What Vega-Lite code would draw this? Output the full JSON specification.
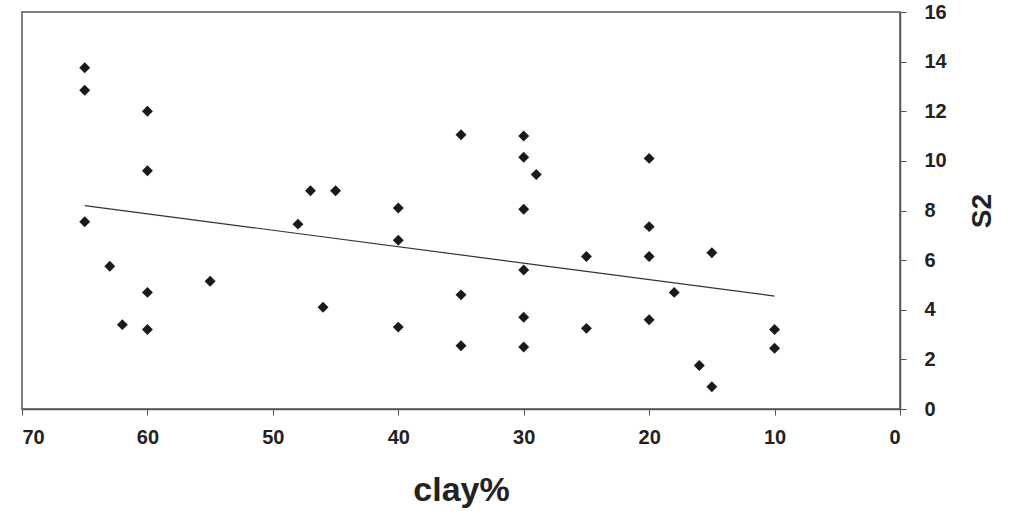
{
  "$schema": "https://vega.github.io/schema/vega-lite/v6.json",
  "autosize": "none",
  "width": 878,
  "height": 397,
  "padding": {"left": 22, "top": 12, "right": 110, "bottom": 102},
  "background": "#ffffff",
  "config": {
    "view": {"stroke": "#555555", "strokeWidth": 1.5},
    "font": "Liberation Sans"
  },
  "datasets": {
    "pts": [
      {"clay": 65, "S2": 13.75}, {"clay": 65, "S2": 12.85}, {"clay": 65, "S2": 7.55},
      {"clay": 63, "S2": 5.75}, {"clay": 62, "S2": 3.4},
      {"clay": 60, "S2": 12.0}, {"clay": 60, "S2": 9.6}, {"clay": 60, "S2": 4.7}, {"clay": 60, "S2": 3.2},
      {"clay": 55, "S2": 5.15}, {"clay": 48, "S2": 7.45}, {"clay": 47, "S2": 8.8},
      {"clay": 46, "S2": 4.1}, {"clay": 45, "S2": 8.8},
      {"clay": 40, "S2": 8.1}, {"clay": 40, "S2": 6.8}, {"clay": 40, "S2": 3.3},
      {"clay": 35, "S2": 11.05}, {"clay": 35, "S2": 4.6}, {"clay": 35, "S2": 2.55},
      {"clay": 30, "S2": 11.0}, {"clay": 30, "S2": 10.15}, {"clay": 30, "S2": 8.05},
      {"clay": 30, "S2": 5.6}, {"clay": 30, "S2": 3.7}, {"clay": 30, "S2": 2.5},
      {"clay": 29, "S2": 9.45}, {"clay": 25, "S2": 6.15}, {"clay": 25, "S2": 3.25},
      {"clay": 20, "S2": 10.1}, {"clay": 20, "S2": 7.35}, {"clay": 20, "S2": 6.15}, {"clay": 20, "S2": 3.6},
      {"clay": 18, "S2": 4.7}, {"clay": 16, "S2": 1.75},
      {"clay": 15, "S2": 6.3}, {"clay": 15, "S2": 0.9},
      {"clay": 10, "S2": 3.2}, {"clay": 10, "S2": 2.45}
    ],
    "trend": [
      {"clay": 65, "S2": 8.2},
      {"clay": 10, "S2": 4.55}
    ]
  },
  "layer": [
    {
      "data": {"name": "trend"},
      "mark": {"type": "line", "color": "#333333", "strokeWidth": 1.2},
      "encoding": {
        "x": {"field": "clay", "type": "quantitative"},
        "y": {"field": "S2", "type": "quantitative"}
      }
    },
    {
      "data": {"name": "pts"},
      "mark": {"type": "point", "shape": "diamond", "filled": true, "size": 120, "color": "#1a1a1a", "opacity": 1},
      "encoding": {
        "x": {
          "field": "clay", "type": "quantitative",
          "scale": {"domain": [70, 0], "nice": false, "zero": false},
          "axis": {
            "orient": "bottom", "values": [70, 60, 50, 40, 30, 20, 10, 0],
            "grid": false, "domainColor": "#555555", "domainWidth": 1.5,
            "tickColor": "#555555", "tickSize": 6, "tickWidth": 1,
            "labelFont": "Liberation Sans", "labelFontSize": 20, "labelFontWeight": "bold",
            "labelColor": "#222222", "labelPadding": 12,
            "title": "clay%", "titleFont": "Liberation Sans", "titleFontSize": 34,
            "titleFontWeight": "bold", "titleColor": "#222222", "titlePadding": 26
          }
        },
        "y": {
          "field": "S2", "type": "quantitative",
          "scale": {"domain": [0, 16], "nice": false},
          "axis": {
            "orient": "right", "values": [0, 2, 4, 6, 8, 10, 12, 14, 16],
            "grid": false, "domainColor": "#555555", "domainWidth": 1.5,
            "tickColor": "#555555", "tickSize": 6, "tickWidth": 1,
            "labelFont": "Liberation Sans", "labelFontSize": 20, "labelFontWeight": "bold",
            "labelColor": "#222222", "labelPadding": 18,
            "title": "S2", "titleFont": "Liberation Sans", "titleFontSize": 28,
            "titleFontWeight": "bold", "titleColor": "#222222", "titleAngle": -90,
            "titlePadding": 50
          }
        }
      }
    }
  ]
}
